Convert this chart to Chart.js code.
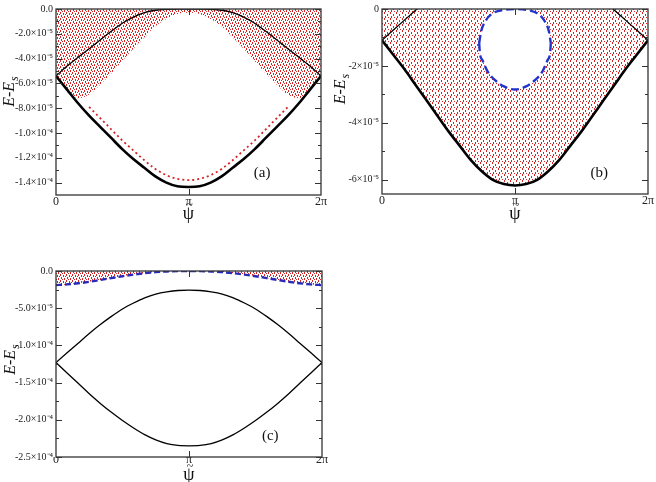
<!DOCTYPE html>
<html>
<head>
<meta charset="utf-8">
<script src="https://cdn.jsdelivr.net/npm/chart.js@4.4.0/dist/chart.umd.min.js"></script>
<style>
    body { margin: 0; background: #fff; }
    #wrap { position: relative; width: 656px; height: 482px; overflow: hidden; }
    #wrap canvas { position: absolute; }
</style>
</head>
<body>
<div id="wrap">
    <canvas id="chartA" width="335" height="225" style="left:0;top:0"></canvas>
    <canvas id="chartB" width="326" height="225" style="left:330px;top:0"></canvas>
    <canvas id="chartC" width="335" height="232" style="left:0;top:250px"></canvas>
</div>
<script>
// psi in degrees (360 = 2π), energies E-Es in units of 1e-5
const psi = [0, 15, 30, 45, 60, 75, 90, 105, 120, 135, 150, 165, 180, 195, 210, 225, 240, 255, 270, 285, 300, 315, 330, 345, 360];

// panel (a)
const aLower = [-5.4, -6.5, -7.6, -8.6, -9.5, -10.4, -11.3, -12.1, -12.8, -13.5, -14.0, -14.3, -14.35, -14.3, -14.0, -13.5, -12.8, -12.1, -11.3, -10.4, -9.5, -8.6, -7.6, -6.5, -5.4];
const aUpper = [-5.4, -4.6, -3.9, -3.2, -2.5, -1.8, -1.15, -0.65, -0.3, -0.1, -0.02, 0, 0, 0, -0.02, -0.1, -0.3, -0.65, -1.15, -1.8, -2.5, -3.2, -3.9, -4.6, -5.4];
const aCloud = [-5.4, -6.4, -7.2, -6.9, -6.1, -5.2, -4.2, -3.2, -2.3, -1.4, -0.8, -0.4, -0.3, -0.4, -0.8, -1.4, -2.3, -3.2, -4.2, -5.2, -6.1, -6.9, -7.2, -6.4, -5.4];
const psiSparse = [45, 60, 75, 90, 105, 120, 135, 150, 165, 180, 195, 210, 225, 240, 255, 270, 285, 300, 315];
const aSparse = [-7.9, -8.8, -9.7, -10.6, -11.4, -12.2, -12.9, -13.4, -13.7, -13.8, -13.7, -13.4, -12.9, -12.2, -11.4, -10.6, -9.7, -8.8, -7.9];

// panel (b)
const bLower = [-1.1, -1.6, -2.1, -2.65, -3.2, -3.75, -4.3, -4.8, -5.3, -5.7, -6.0, -6.15, -6.2, -6.15, -6.0, -5.7, -5.3, -4.8, -4.3, -3.75, -3.2, -2.65, -2.1, -1.6, -1.1];
const psiUpperL = [0, 15, 30, 45, 60];
const bUpperL = [-1.1, -0.75, -0.4, -0.05, 0.3];
const psiUpperR = [300, 315, 330, 345, 360];
const bUpperR = [0.3, -0.05, -0.4, -0.75, -1.1];
const psiOvalTop = [131.5, 134, 140, 150, 165, 180, 195, 210, 220, 226, 228.5];
const bOvalTop = [-1.2, -0.8, -0.42, -0.15, -0.03, 0, -0.03, -0.15, -0.42, -0.8, -1.2];
const psiOvalBot = [131.5, 132.5, 136, 143, 153, 165, 180, 195, 207, 217, 224, 227.5, 228.5];
const bOvalBot = [-1.2, -1.55, -1.8, -2.2, -2.5, -2.72, -2.83, -2.72, -2.5, -2.2, -1.8, -1.55, -1.2];

// panel (c)
const cUpper = [-12.3, -11.0, -9.7, -8.4, -7.2, -6.1, -5.1, -4.3, -3.6, -3.1, -2.8, -2.62, -2.58, -2.62, -2.8, -3.1, -3.6, -4.3, -5.1, -6.1, -7.2, -8.4, -9.7, -11.0, -12.3];
const cLower = [-12.3, -13.7, -15.1, -16.5, -17.8, -19.0, -20.1, -21.1, -22.0, -22.7, -23.2, -23.45, -23.5, -23.45, -23.2, -22.7, -22.0, -21.1, -20.1, -19.0, -17.8, -16.5, -15.1, -13.7, -12.3];
const cBlue = [-1.9, -1.8, -1.65, -1.45, -1.2, -0.95, -0.7, -0.48, -0.3, -0.15, -0.06, -0.01, 0, -0.01, -0.06, -0.15, -0.3, -0.48, -0.7, -0.95, -1.2, -1.45, -1.65, -1.8, -1.9];

// ticks
const xTicks = [0, 180, 360];
const xTickLabels = ['0', 'π', '2π'];
const aYTicks = [0, -2, -4, -6, -8, -10, -12, -14];
const aYLabels = ['0.0', '-2.0×10⁻⁵', '-4.0×10⁻⁵', '-6.0×10⁻⁵', '-8.0×10⁻⁵', '-1.0×10⁻⁴', '-1.2×10⁻⁴', '-1.4×10⁻⁴'];
const aYMinor = [-1, -3, -5, -7, -9, -11, -13];
const bYTicks = [0, -2, -4, -6];
const bYLabels = ['0', '-2×10⁻⁵', '-4×10⁻⁵', '-6×10⁻⁵'];
const bYMinor = [-1, -3, -5];
const cYTicks = [0, -5, -10, -15, -20, -25];
const cYLabels = ['0.0', '-5.0×10⁻⁵', '-1.0×10⁻⁴', '-1.5×10⁻⁴', '-2.0×10⁻⁴', '-2.5×10⁻⁴'];
const cYMinor = [-2.5, -7.5, -12.5, -17.5, -22.5];

const SERIF = '"Liberation Serif", "Times New Roman", serif';

function pts(xs, ys) {
    return xs.map((x, i) => ({ x: x, y: ys[i] }));
}

// little red marks, to look like the scattered points
function dotPattern(marks) {
    const c = document.createElement('canvas');
    c.width = 6; c.height = 6;
    const g = c.getContext('2d');
    g.fillStyle = '#d42424';
    marks.forEach(m => g.fillRect(m[0], m[1], 1, m[2]));
    return g.createPattern(c, 'repeat');
}

// frame, inward ticks, panel tag and axis titles
const framePlugin = {
    id: 'frame',
    afterDatasetsDraw(chart, args, o) {
        const ctx = chart.ctx, a = chart.chartArea;
        const xs = chart.scales.x, ys = chart.scales.y;
        ctx.save();
        ctx.strokeStyle = '#333';
        ctx.lineWidth = 1;
        ctx.beginPath();
        o.yMajor.forEach(v => {
            const py = Math.round(ys.getPixelForValue(v)) + 0.5;
            ctx.moveTo(a.left, py); ctx.lineTo(a.left + 6, py);
            ctx.moveTo(a.right, py); ctx.lineTo(a.right - 6, py);
        });
        o.yMinor.forEach(v => {
            const py = Math.round(ys.getPixelForValue(v)) + 0.5;
            ctx.moveTo(a.left, py); ctx.lineTo(a.left + 3, py);
            ctx.moveTo(a.right, py); ctx.lineTo(a.right - 3, py);
        });
        [180].forEach(v => {
            const px = Math.round(xs.getPixelForValue(v)) + 0.5;
            ctx.moveTo(px, a.bottom); ctx.lineTo(px, a.bottom - 6);
            ctx.moveTo(px, a.top); ctx.lineTo(px, a.top + 6);
        });
        ctx.stroke();
        ctx.lineWidth = 1.3;
        ctx.strokeRect(a.left, a.top, a.right - a.left, a.bottom - a.top);

        ctx.fillStyle = '#111';
        ctx.textAlign = 'center';
        ctx.textBaseline = 'middle';
        ctx.font = '15px ' + SERIF;
        ctx.fillText(o.tag, xs.getPixelForValue(o.tagAt[0]), ys.getPixelForValue(o.tagAt[1]));

        // x title: psi with a tilde
        const cx = (a.left + a.right) / 2;
        ctx.font = '18px ' + SERIF;
        ctx.fillText('ψ', cx, a.bottom + o.xTitle);
        ctx.font = '12px ' + SERIF;
        ctx.fillText('~', cx + 1, a.bottom + o.xTitle - 8);

        // y title E-E_s
        ctx.translate(o.yTitle, (a.top + a.bottom) / 2 - o.yShift);
        ctx.rotate(-Math.PI / 2);
        ctx.font = 'italic 16px ' + SERIF;
        const w1 = ctx.measureText('E-E').width;
        ctx.font = 'italic 12px ' + SERIF;
        const w2 = ctx.measureText('s').width;
        ctx.textAlign = 'left';
        ctx.font = 'italic 16px ' + SERIF;
        ctx.fillText('E-E', -(w1 + w2) / 2, 0);
        ctx.font = 'italic 12px ' + SERIF;
        ctx.fillText('s', -(w1 + w2) / 2 + w1 + 1, 5);
        ctx.restore();
    }
};

function options(cfg) {
    return {
        responsive: false,
        animation: false,
        layout: { padding: { left: 0, right: cfg.padRight, top: cfg.padTop, bottom: 0 } },
        elements: { point: { radius: 0 } },
        plugins: {
            legend: { display: false },
            tooltip: { enabled: false },
            filler: { drawTime: 'beforeDatasetsDraw' },
            frame: cfg.frame
        },
        scales: {
            x: {
                type: 'linear', min: 0, max: 360,
                grid: { display: false, drawTicks: false },
                border: { display: false },
                afterBuildTicks: s => { s.ticks = xTicks.map(v => ({ value: v })); },
                afterFit: s => { s.height = cfg.xHeight; },
                ticks: {
                    autoSkip: false, maxRotation: 0, padding: cfg.xPad,
                    color: '#222', font: { family: SERIF, size: 12 },
                    callback: v => xTickLabels[xTicks.indexOf(v)]
                }
            },
            y: {
                type: 'linear', min: cfg.yMin, max: 0,
                grid: { display: false, drawTicks: false },
                border: { display: false },
                afterBuildTicks: s => { s.ticks = cfg.yTicks.map(v => ({ value: v })); },
                afterFit: s => { s.width = cfg.yWidth; },
                ticks: {
                    autoSkip: false, padding: 3,
                    color: '#222', font: { family: SERIF, size: 10 },
                    callback: (v, i) => cfg.yLabels[i]
                }
            }
        }
    };
}

function curve(data, color, width, extra) {
    return Object.assign({
        data: data, borderColor: color, borderWidth: width, fill: false,
        cubicInterpolationMode: 'monotone', clip: 0
    }, extra || {});
}

document.addEventListener('DOMContentLoaded', function() {
    Chart.register(framePlugin);
    // dense and lighter dot textures
    const denseDots = dotPattern([[0, 0, 2], [3, 1, 2], [1, 3, 2], [4, 4, 2], [2, 5, 1], [5, 2, 1]]);
    const lightDots = dotPattern([[0, 0, 2], [3, 2, 2], [1, 4, 2], [4, 5, 1]]);

    // Panel (a)
    const ctxA = document.getElementById('chartA').getContext('2d');
    new Chart(ctxA, {
        type: 'line',
        data: {
            datasets: [
                curve(pts(psi, aLower), '#000', 2.6, { order: 1 }),
                curve(pts(psi, aUpper), '#000', 1.3, { order: 1 }),
                curve(pts(psiSparse, aSparse), '#d42424', 1.8, { order: 2, borderDash: [2, 3] }),
                curve(pts(psi, aCloud), 'rgba(0,0,0,0)', 0, { order: 9, fill: 'end', backgroundColor: denseDots })
            ]
        },
        options: options({
            padRight: 14, padTop: 8, xHeight: 30, xPad: 0, yWidth: 56, yMin: -15,
            yTicks: aYTicks, yLabels: aYLabels,
            frame: { yMajor: aYTicks, yMinor: aYMinor, tag: '(a)', tagAt: [280, -13.26], xTitle: 19, yTitle: 10, yShift: 10 }
        })
    });

    // Panel (b)
    const ctxB = document.getElementById('chartB').getContext('2d');
    new Chart(ctxB, {
        type: 'line',
        data: {
            datasets: [
                curve(pts(psi, bLower), '#000', 2.6, { order: 9, fill: 'end', backgroundColor: lightDots }),
                curve(pts(psiUpperL, bUpperL), '#000', 1.3, { order: 1 }),
                curve(pts(psiUpperR, bUpperR), '#000', 1.3, { order: 1 }),
                curve(pts(psiOvalTop, bOvalTop), '#2233cc', 2.4, { order: 2, borderDash: [8, 4] }),
                curve(pts(psiOvalBot, bOvalBot), '#2233cc', 2.4, {
                    order: 3, borderDash: [8, 4], fill: '-1', backgroundColor: '#fff'
                })
            ]
        },
        options: options({
            padRight: 8, padTop: 8, xHeight: 31, xPad: 0, yWidth: 52, yMin: -6.5,
            yTicks: bYTicks, yLabels: bYLabels,
            frame: { yMajor: bYTicks, yMinor: bYMinor, tag: '(b)', tagAt: [294, -5.76], xTitle: 20, yTitle: 11, yShift: 12 }
        })
    });

    // Panel (c)
    const ctxC = document.getElementById('chartC').getContext('2d');
    new Chart(ctxC, {
        type: 'line',
        data: {
            datasets: [
                curve(pts(psi, cUpper), '#000', 1.3, { order: 1 }),
                curve(pts(psi, cLower), '#000', 1.3, { order: 1 }),
                curve(pts(psi, cBlue), '#2a2ab8', 2.4, {
                    order: 9, borderDash: [6, 3], fill: 'end', backgroundColor: denseDots
                })
            ]
        },
        options: options({
            padRight: 13, padTop: 21, xHeight: 25, xPad: -4, yWidth: 56, yMin: -25,
            yTicks: cYTicks, yLabels: cYLabels,
            frame: { yMajor: cYTicks, yMinor: cYMinor, tag: '(c)', tagAt: [290, -22.15], xTitle: 18, yTitle: 11, yShift: 4 }
        })
    });
});
</script>
</body>
</html>
